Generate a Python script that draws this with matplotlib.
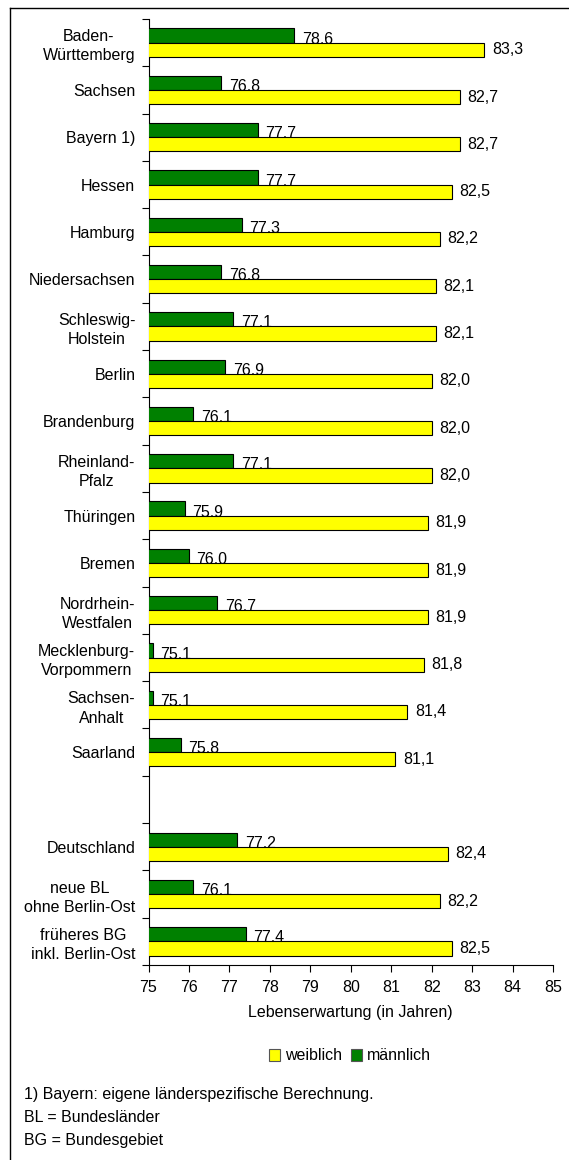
import matplotlib
matplotlib.use("Agg")
import matplotlib.pyplot as plt
from matplotlib.lines import Line2D
from matplotlib.patches import Patch
import numpy as np

plt.rcParams['font.family'] = ['Liberation Sans', 'DejaVu Sans']
FS = 11.5

# data
laender = ["Baden-\nWürttemberg", "Sachsen", "Bayern 1)", "Hessen", "Hamburg",
           "Niedersachsen", "Schleswig-\nHolstein", "Berlin", "Brandenburg",
           "Rheinland-\nPfalz", "Thüringen", "Bremen", "Nordrhein-\nWestfalen",
           "Mecklenburg-\nVorpommern", "Sachsen-\nAnhalt", "Saarland", "",
           "Deutschland", "neue BL\nohne Berlin-Ost", "früheres BG\ninkl. Berlin-Ost"]
weiblich = [83.3, 82.7, 82.7, 82.5, 82.2, 82.1, 82.1, 82.0, 82.0, 82.0,
            81.9, 81.9, 81.9, 81.8, 81.4, 81.1, None, 82.4, 82.2, 82.5]
maennlich = [78.6, 76.8, 77.7, 77.7, 77.3, 76.8, 77.1, 76.9, 76.1, 77.1,
             75.9, 76.0, 76.7, 75.1, 75.1, 75.8, None, 77.2, 76.1, 77.4]
footnotes = ["1) Bayern: eigene länderspezifische Berechnung.",
             "BL = Bundesländer",
             "BG = Bundesgebiet"]

GREEN = "#008000"
YELLOW = "#ffff00"
H = 0.3

fig = plt.figure(figsize=(5.69, 11.6), dpi=100)
ax = fig.add_axes([148.5 / 569, 1 - 965 / 1160, (553 - 148.5) / 569, (965 - 19) / 1160])

pos = np.arange(len(laender))
for i, (w, m) in enumerate(zip(weiblich, maennlich)):
    if w is None:
        continue
    ax.barh(i - H / 2, m, height=H, color=GREEN, edgecolor="black", lw=0.8, zorder=3)
    ax.barh(i + H / 2, w, height=H, color=YELLOW, edgecolor="black", lw=0.8, zorder=3)
    ax.annotate(f"{m:.1f}".replace(".", ","), (m, i - 0.075), xytext=(5.5, 0),
                textcoords="offset points", va="center", ha="left", fontsize=FS, zorder=2.5)
    ax.annotate(f"{w:.1f}".replace(".", ","), (w, i + H / 2), xytext=(5.5, 0),
                textcoords="offset points", va="center", ha="left", fontsize=FS, zorder=4)

ax.set_xlim(75, 85)
ax.set_ylim(len(laender) - 0.5, -0.5)
ax.set_xticks(np.arange(75, 86, 1))
ax.set_xticklabels([str(v) for v in range(75, 86)], fontsize=FS)
ax.set_yticks(np.arange(-0.5, len(laender), 1))
ax.set_yticklabels([])
ax.set_yticks(pos, minor=True)
ax.set_yticklabels(laender, minor=True, fontsize=FS, ha="right", multialignment="center",
                   linespacing=1.35)
ax.tick_params(axis="y", which="minor", length=0, pad=9.5)
ax.tick_params(axis="y", which="major", length=5, width=0.8, direction="out")
ax.tick_params(axis="x", length=5, width=0.8, direction="out", pad=6)
for s in ["top", "right"]:
    ax.spines[s].set_visible(False)
ax.spines["left"].set_linewidth(0.8)
ax.spines["bottom"].set_linewidth(0.8)
ax.set_xlabel("Lebenserwartung (in Jahren)", fontsize=FS, labelpad=7)

handles = [Patch(facecolor=YELLOW, edgecolor="#555555", lw=0.8),
           Patch(facecolor=GREEN, edgecolor="#555555", lw=0.8)]
fig.legend(handles, ["weiblich", "männlich"], loc="center", bbox_to_anchor=(350 / 569, 1 - 1056 / 1160),
           ncol=2, frameon=False, fontsize=FS, handlelength=0.7, handleheight=0.7,
           handletextpad=0.3, columnspacing=0.6)

for k, t in enumerate(footnotes):
    fig.text(24 / 569, 1 - (1095 + 23 * k) / 1160, t, fontsize=FS, va="center", ha="left")

# outer frame (left and top edge)
fig.add_artist(Line2D([10 / 569, 10 / 569], [0, 1 - 8 / 1160], color="black", lw=1))
fig.add_artist(Line2D([10 / 569, 1], [1 - 8 / 1160, 1 - 8 / 1160], color="black", lw=1))

fig.savefig("out.png", dpi=100)
